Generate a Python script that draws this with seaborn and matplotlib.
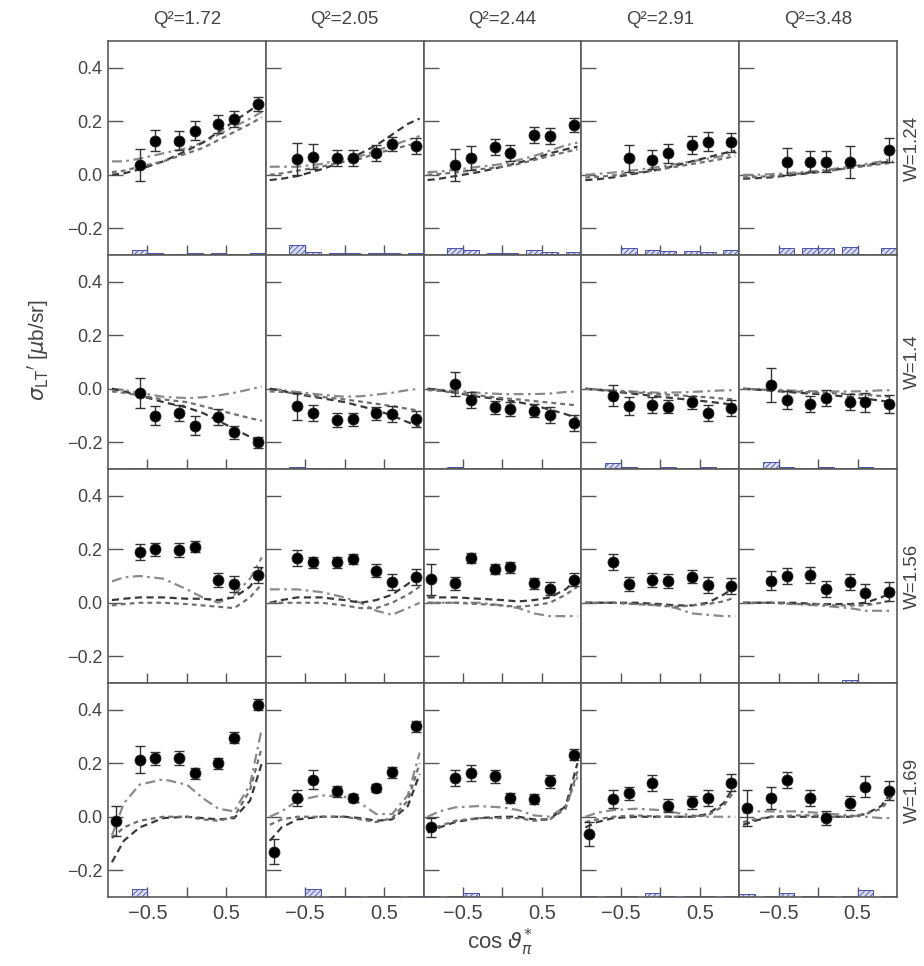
import numpy as np
import pandas as pd
import matplotlib
matplotlib.use("Agg")
import matplotlib.pyplot as plt
import seaborn as sns

nan = float("nan")

Q2_LABELS = ["1.72", "2.05", "2.44", "2.91", "3.48"]
W_LABELS = ["1.24", "1.4", "1.56", "1.69"]
COS_BINS = [-0.9, -0.6, -0.4, -0.1, 0.1, 0.4, 0.6, 0.9]
CURVE_X = [-0.95, -0.8, -0.6, -0.3, 0.0, 0.2, 0.4, 0.6, 0.8, 0.95]

# ---------------- W = 1.24 ----------------
SIG_W124 = [
    [nan, 0.035, 0.127, 0.127, 0.165, 0.19, 0.21, 0.265],
    [nan, 0.059, 0.067, 0.062, 0.062, 0.083, 0.115, 0.108],
    [nan, 0.036, 0.061, 0.105, 0.081, 0.15, 0.146, 0.186],
    [nan, nan, 0.061, 0.056, 0.08, 0.111, 0.123, 0.121],
    [nan, nan, 0.049, 0.049, 0.049, 0.046, nan, 0.093],
]
ERR_W124 = [
    [nan, 0.06, 0.04, 0.035, 0.035, 0.035, 0.03, 0.025],
    [nan, 0.06, 0.047, 0.03, 0.03, 0.03, 0.025, 0.03],
    [nan, 0.06, 0.045, 0.03, 0.03, 0.03, 0.03, 0.025],
    [nan, nan, 0.05, 0.035, 0.035, 0.035, 0.035, 0.035],
    [nan, nan, 0.05, 0.04, 0.04, 0.06, nan, 0.045],
]
SYS_W124 = [
    [0, 0.02, 0.008, 0.005, 0.008, 0.008, 0.005, 0.006],
    [0, 0.038, 0.012, 0.006, 0.008, 0.006, 0.008, 0.006],
    [0, 0.025, 0.018, 0.006, 0.008, 0.02, 0.01, 0.01],
    [0, 0, 0.025, 0.02, 0.015, 0.015, 0.012, 0.02],
    [0, 0, 0.028, 0.028, 0.028, 0.03, 0, 0.025],
]
MOD1_W124 = [
    [0.05, 0.05, 0.06, 0.08, 0.1, 0.12, 0.15, 0.18, 0.21, 0.235],
    [0.03, 0.03, 0.03, 0.04, 0.06, 0.07, 0.09, 0.11, 0.13, 0.145],
    [0.01, 0.012, 0.018, 0.03, 0.04, 0.055, 0.07, 0.09, 0.11, 0.12],
    [0.0, 0.003, 0.008, 0.018, 0.03, 0.04, 0.05, 0.06, 0.07, 0.08],
    [0.0, 0.0, 0.002, 0.008, 0.015, 0.022, 0.03, 0.04, 0.05, 0.06],
]
MOD2_W124 = [
    [0.0, 0.005, 0.02, 0.05, 0.09, 0.12, 0.16, 0.2, 0.24, 0.27],
    [-0.02, -0.015, -0.005, 0.02, 0.05, 0.08, 0.11, 0.15, 0.19, 0.21],
    [-0.02, -0.015, -0.005, 0.01, 0.03, 0.045, 0.06, 0.08, 0.095, 0.105],
    [-0.02, -0.017, -0.01, 0.005, 0.02, 0.035, 0.05, 0.065, 0.08, 0.09],
    [-0.015, -0.013, -0.01, 0.0, 0.01, 0.018, 0.026, 0.035, 0.045, 0.05],
]
MOD3_W124 = [
    [0.01, 0.015, 0.03, 0.05, 0.08, 0.1, 0.13, 0.16, 0.19, 0.215],
    [0.0, 0.005, 0.015, 0.03, 0.05, 0.06, 0.08, 0.095, 0.11, 0.12],
    [0.0, 0.003, 0.008, 0.02, 0.03, 0.04, 0.055, 0.07, 0.085, 0.095],
    [-0.01, -0.008, -0.003, 0.008, 0.02, 0.03, 0.04, 0.05, 0.06, 0.07],
    [-0.01, -0.008, -0.005, 0.003, 0.01, 0.017, 0.025, 0.033, 0.04, 0.045],
]

# ---------------- W = 1.4 ----------------
SIG_W140 = [
    [nan, -0.016, -0.101, -0.092, -0.138, -0.105, -0.163, -0.2],
    [nan, -0.066, -0.092, -0.117, -0.114, -0.092, -0.095, -0.113],
    [nan, 0.017, -0.042, -0.07, -0.076, -0.082, -0.097, -0.128],
    [nan, -0.026, -0.064, -0.061, -0.067, -0.051, -0.089, -0.073],
    [nan, 0.014, -0.042, -0.057, -0.036, -0.049, -0.051, -0.057],
]
ERR_W140 = [
    [nan, 0.055, 0.035, 0.03, 0.035, 0.03, 0.025, 0.02],
    [nan, 0.05, 0.03, 0.025, 0.025, 0.025, 0.03, 0.03],
    [nan, 0.045, 0.03, 0.025, 0.025, 0.025, 0.03, 0.03],
    [nan, 0.04, 0.035, 0.03, 0.025, 0.025, 0.03, 0.03],
    [nan, 0.065, 0.035, 0.03, 0.03, 0.03, 0.035, 0.035],
]
SYS_W140 = [
    [0, 0.005, 0.005, 0.004, 0.005, 0.004, 0.005, 0.004],
    [0, 0.006, 0.005, 0.004, 0.005, 0.004, 0.005, 0.004],
    [0, 0.008, 0.005, 0.004, 0.005, 0.004, 0.005, 0.004],
    [0, 0.022, 0.006, 0.005, 0.006, 0.005, 0.006, 0.005],
    [0, 0.028, 0.006, 0.005, 0.006, 0.005, 0.006, 0.005],
]
MOD1_W140 = [
    [0.0, -0.005, -0.015, -0.03, -0.035, -0.032, -0.025, -0.015, -0.002, 0.008],
    [0.0, -0.005, -0.012, -0.022, -0.03, -0.028, -0.022, -0.015, -0.005, 0.0],
    [0.0, -0.003, -0.008, -0.015, -0.02, -0.02, -0.02, -0.018, -0.012, -0.01],
    [0.0, -0.002, -0.006, -0.011, -0.015, -0.014, -0.012, -0.009, -0.006, -0.005],
    [0.0, -0.001, -0.003, -0.007, -0.01, -0.01, -0.01, -0.009, -0.006, -0.005],
]
MOD2_W140 = [
    [0.0, -0.01, -0.025, -0.05, -0.07, -0.09, -0.12, -0.15, -0.18, -0.2],
    [0.0, -0.008, -0.02, -0.035, -0.05, -0.065, -0.08, -0.1, -0.125, -0.14],
    [0.0, -0.005, -0.015, -0.03, -0.04, -0.05, -0.062, -0.078, -0.095, -0.11],
    [0.0, -0.004, -0.01, -0.02, -0.03, -0.036, -0.042, -0.048, -0.055, -0.06],
    [0.0, -0.003, -0.007, -0.014, -0.02, -0.025, -0.031, -0.037, -0.045, -0.05],
]
MOD3_W140 = [
    [-0.01, -0.015, -0.025, -0.04, -0.05, -0.065, -0.08, -0.095, -0.11, -0.12],
    [-0.01, -0.012, -0.018, -0.03, -0.04, -0.048, -0.056, -0.065, -0.075, -0.082],
    [-0.005, -0.008, -0.015, -0.025, -0.035, -0.04, -0.046, -0.052, -0.058, -0.062],
    [0.0, -0.003, -0.008, -0.014, -0.02, -0.024, -0.028, -0.032, -0.037, -0.04],
    [0.0, -0.002, -0.005, -0.01, -0.015, -0.017, -0.02, -0.023, -0.027, -0.03],
]

# ---------------- W = 1.56 ----------------
SIG_W156 = [
    [nan, 0.188, 0.2, 0.197, 0.21, 0.085, 0.07, 0.104],
    [nan, 0.167, 0.151, 0.151, 0.163, 0.12, 0.076, 0.097],
    [0.088, 0.072, 0.167, 0.126, 0.132, 0.073, 0.053, 0.086],
    [nan, 0.153, 0.07, 0.085, 0.082, 0.098, 0.067, 0.064],
    [nan, 0.082, 0.101, 0.104, 0.051, 0.076, 0.035, 0.041],
]
ERR_W156 = [
    [nan, 0.03, 0.025, 0.025, 0.02, 0.025, 0.03, 0.03],
    [nan, 0.03, 0.02, 0.02, 0.02, 0.025, 0.03, 0.03],
    [0.058, 0.025, 0.02, 0.02, 0.02, 0.02, 0.025, 0.025],
    [nan, 0.03, 0.025, 0.025, 0.025, 0.025, 0.03, 0.03],
    [nan, 0.035, 0.03, 0.03, 0.03, 0.03, 0.035, 0.035],
]
SYS_W156 = [
    [0, 0, 0, 0, 0, 0, 0, 0],
    [0, 0.004, 0.004, 0.004, 0.004, 0.004, 0.004, 0.004],
    [0, 0.004, 0.004, 0.004, 0.004, 0.004, 0.004, 0.004],
    [0, 0.005, 0.005, 0.005, 0.005, 0.005, 0.005, 0.005],
    [0, 0.005, 0.005, 0.005, 0.005, 0.012, 0.005, 0.005],
]
MOD1_W156 = [
    [0.08, 0.095, 0.1, 0.09, 0.05, 0.02, 0.0, 0.03, 0.09, 0.17],
    [0.05, 0.05, 0.05, 0.04, 0.02, 0.0, -0.03, -0.045, -0.02, 0.0],
    [0.0, 0.0, 0.0, 0.0, -0.01, -0.02, -0.04, -0.05, -0.05, -0.05],
    [0.0, 0.0, 0.0, -0.005, -0.01, -0.02, -0.04, -0.045, -0.05, -0.05],
    [0.0, 0.0, 0.0, -0.005, -0.01, -0.015, -0.02, -0.03, -0.03, -0.03],
]
MOD2_W156 = [
    [0.01, 0.015, 0.02, 0.02, 0.015, 0.015, 0.01, 0.02, 0.06, 0.13],
    [0.0, 0.01, 0.02, 0.02, 0.01, 0.0, 0.01, 0.03, 0.07, 0.11],
    [0.02, 0.02, 0.02, 0.015, 0.01, 0.005, 0.01, 0.02, 0.05, 0.09],
    [0.0, 0.0, 0.0, 0.0, -0.005, -0.01, -0.01, 0.0, 0.03, 0.06],
    [0.0, 0.0, 0.0, 0.0, -0.005, -0.005, -0.005, 0.0, 0.02, 0.04],
]
MOD3_W156 = [
    [-0.01, -0.005, 0.0, 0.0, -0.005, -0.01, -0.015, -0.02, 0.02, 0.07],
    [0.0, 0.0, 0.0, 0.0, -0.01, -0.02, -0.02, 0.0, 0.03, 0.06],
    [0.0, 0.0, 0.0, -0.005, -0.01, -0.015, -0.01, 0.0, 0.03, 0.06],
    [0.0, 0.0, 0.0, -0.005, -0.01, -0.015, -0.01, -0.005, 0.005, 0.02],
    [0.0, 0.0, 0.0, -0.005, -0.005, -0.01, -0.01, -0.01, 0.0, 0.01],
]

# ---------------- W = 1.69 ----------------
SIG_W169 = [
    [-0.015, 0.213, 0.218, 0.219, 0.162, 0.2, 0.296, 0.419],
    [-0.13, 0.07, 0.138, 0.095, 0.07, 0.106, 0.166, 0.338],
    [-0.04, 0.145, 0.163, 0.151, 0.07, 0.066, 0.132, 0.232],
    [-0.065, 0.066, 0.087, 0.125, 0.041, 0.054, 0.07, 0.128],
    [0.033, 0.07, 0.137, 0.07, -0.005, 0.051, 0.112, 0.097],
]
ERR_W169 = [
    [0.056, 0.05, 0.025, 0.025, 0.02, 0.02, 0.02, 0.02],
    [0.045, 0.03, 0.035, 0.02, 0.015, 0.015, 0.02, 0.02],
    [0.035, 0.03, 0.03, 0.025, 0.02, 0.02, 0.025, 0.02],
    [0.045, 0.035, 0.025, 0.03, 0.025, 0.025, 0.03, 0.03],
    [0.068, 0.04, 0.03, 0.03, 0.025, 0.025, 0.04, 0.035],
]
SYS_W169 = [
    [0, 0.03, 0, 0, 0, 0, 0, 0],
    [0, 0, 0.03, 0.004, 0.004, 0.004, 0.004, 0.004],
    [0.004, 0.004, 0.015, 0, 0, 0, 0, 0],
    [0.004, 0.004, 0.004, 0.015, 0.004, 0.004, 0.004, 0.004],
    [0.012, 0.004, 0.015, 0.004, 0.004, 0.004, 0.025, 0.004],
]
MOD1_W169 = [
    [-0.07, 0.05, 0.12, 0.14, 0.12, 0.07, 0.03, 0.02, 0.12, 0.33],
    [0.0, 0.02, 0.06, 0.08, 0.075, 0.05, 0.01, 0.01, 0.08, 0.24],
    [0.0, 0.02, 0.035, 0.04, 0.035, 0.025, 0.005, 0.0, 0.04, 0.15],
    [0.0, 0.015, 0.025, 0.03, 0.025, 0.015, 0.005, 0.0, 0.0, 0.0],
    [0.015, 0.02, 0.02, 0.02, 0.015, 0.01, 0.005, 0.0, -0.005, -0.005],
]
MOD2_W169 = [
    [-0.17, -0.09, -0.04, -0.005, 0.0, -0.005, -0.01, -0.005, 0.06, 0.2],
    [-0.09, -0.04, -0.01, 0.0, 0.0, -0.005, -0.015, -0.01, 0.04, 0.16],
    [-0.06, -0.04, -0.02, -0.005, 0.0, 0.0, -0.01, -0.01, 0.04, 0.2],
    [-0.04, -0.02, -0.005, 0.0, 0.0, 0.0, 0.0, 0.01, 0.05, 0.12],
    [-0.03, -0.015, 0.0, 0.0, 0.0, 0.0, 0.0, 0.01, 0.04, 0.1],
]
MOD3_W169 = [
    [-0.08, -0.04, -0.015, 0.0, 0.0, -0.01, -0.015, 0.0, 0.1, 0.26],
    [-0.03, -0.01, 0.0, 0.0, 0.0, -0.01, -0.02, -0.005, 0.06, 0.2],
    [-0.05, -0.035, -0.015, -0.005, -0.005, -0.005, -0.015, -0.01, 0.03, 0.17],
    [-0.02, -0.01, 0.0, 0.005, 0.0, 0.0, 0.0, 0.005, 0.04, 0.1],
    [-0.02, -0.01, 0.0, 0.005, 0.005, 0.0, 0.0, 0.01, 0.03, 0.08],
]

ROWS = [
    (SIG_W124, ERR_W124, SYS_W124, MOD1_W124, MOD2_W124, MOD3_W124),
    (SIG_W140, ERR_W140, SYS_W140, MOD1_W140, MOD2_W140, MOD3_W140),
    (SIG_W156, ERR_W156, SYS_W156, MOD1_W156, MOD2_W156, MOD3_W156),
    (SIG_W169, ERR_W169, SYS_W169, MOD1_W169, MOD2_W169, MOD3_W169),
]

# ---------------- styling ----------------
sns.set_theme(style="white")
plt.rcParams["font.family"] = ["Liberation Sans", "DejaVu Sans"]
plt.rcParams["hatch.color"] = "#4a52a8"
plt.rcParams["hatch.linewidth"] = 0.6

GRAY = "#555555"
MODEL_PALETTE = {"m1": "#8a8a8a", "m2": "#3a3a3a", "m3": "#707070"}
MODEL_DASHES = {"m1": (4.5, 2, 1.2, 2), "m2": (3.2, 2), "m3": (2.2, 1.8)}

W_PX, H_PX = 924, 966
fig, axes = plt.subplots(4, 5, figsize=(W_PX / 100, H_PX / 100), dpi=100,
                         sharex=True, sharey=True)
L, R, T, B = 108, 897, 41, 897
fig.subplots_adjust(left=L / W_PX, right=R / W_PX, top=1 - T / H_PX,
                    bottom=1 - B / H_PX, wspace=0, hspace=0)

for r, (sig, err, sysv, m1, m2, m3) in enumerate(ROWS):
    for c in range(5):
        ax = axes[r, c]
        # systematic uncertainty bars
        xs = [x for x, h in zip(COS_BINS, sysv[c]) if h > 0]
        hs = [h for h in sysv[c] if h > 0]
        if xs:
            ax.bar(xs, hs, width=0.2, bottom=-0.3, facecolor="#d9dbf2",
                   edgecolor="#4a52a8", hatch="//////", linewidth=0.7, zorder=1)
        # model curves
        df = pd.DataFrame({
            "x": CURVE_X * 3,
            "y": m1[c] + m2[c] + m3[c],
            "model": ["m1"] * len(CURVE_X) + ["m2"] * len(CURVE_X) + ["m3"] * len(CURVE_X),
        })
        sns.lineplot(data=df, x="x", y="y", hue="model", style="model",
                     palette=MODEL_PALETTE, dashes=MODEL_DASHES, linewidth=1.6,
                     legend=False, ax=ax, zorder=2, sort=False)
        # data points
        pts = pd.DataFrame({"x": COS_BINS, "y": sig[c], "e": err[c]}).dropna()
        ax.errorbar(pts["x"], pts["y"], yerr=pts["e"], fmt="none",
                    ecolor="#333333", elinewidth=1.0, capsize=3.5,
                    capthick=1.0, zorder=3)
        sns.scatterplot(data=pts, x="x", y="y", color="black", s=62,
                        edgecolor="#222222", linewidth=0.6, ax=ax, zorder=4)

        ax.set_xlim(-1, 1)
        ax.set_ylim(-0.3, 0.5)
        ax.set_xlabel("")
        ax.set_ylabel("")
        ax.set_yticks([-0.2, 0.0, 0.2, 0.4])
        ax.set_xticks([-0.5, 0.0, 0.5])
        ax.tick_params(axis="y", direction="in", length=11, width=1.0,
                       color=GRAY, labelcolor="#444444", labelsize=13,
                       left=True, right=False, pad=4)
        ax.tick_params(axis="x", direction="in", length=7, width=1.0,
                       color=GRAY, labelcolor="#444444", labelsize=14.5,
                       bottom=True, top=False, pad=5)
        for sp in ax.spines.values():
            sp.set_color("#5a5a5a")
            sp.set_linewidth(1.2)
        ax.grid(False)

axes[0, 0].set_yticklabels(["\u22120.2", "0.0", "0.2", "0.4"])
axes[3, 0].set_xticklabels(["\u22120.5", "", "0.5"])

col_w = (R - L) / 5
for c, q in enumerate(Q2_LABELS):
    fig.text((L + col_w * (c + 0.5)) / W_PX, 1 - 20 / H_PX, "Q\u00b2=" + q,
             ha="center", va="center", fontsize=13.5, color="#444444")

row_h = (B - T) / 4
for r, w in enumerate(W_LABELS):
    fig.text(912 / W_PX, 1 - (T + row_h * (r + 0.5)) / H_PX, "W=" + w,
             rotation=90, ha="center", va="center", fontsize=13.5,
             color="#444444")

fig.text(38 / W_PX, 1 - 350 / H_PX, r"$\sigma_{\mathrm{LT}}{}'$ [$\mu$b/sr]",
         rotation=90, ha="center", va="center", fontsize=15, color="#444444")
fig.text(500 / W_PX, 1 - 942 / H_PX, r"cos $\vartheta_{\pi}^{*}$",
         ha="center", va="center", fontsize=16, color="#444444")

fig.savefig("out.png", dpi=100)
